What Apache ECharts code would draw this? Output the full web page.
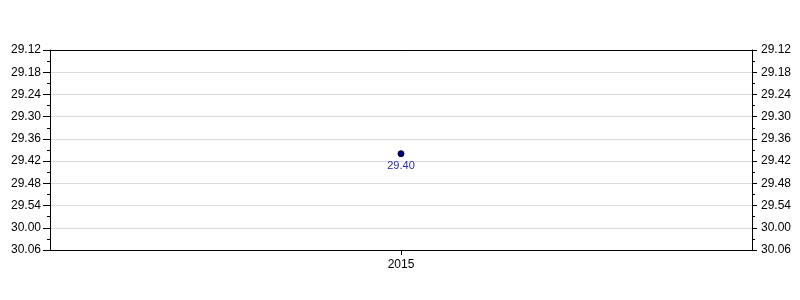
<!DOCTYPE html>
<html><head><meta charset="utf-8">
<script src="https://cdn.jsdelivr.net/npm/echarts@6/dist/echarts.min.js"></script>
<style>html,body{margin:0;padding:0;background:#fff}#c{width:800px;height:300px}</style>
</head><body><div id="c"></div>
<script>
const categories = ['2015'];
// times in seconds (29:40 => 29*60+40)
const values = [1780];
const valueLabels = ['29.40'];
const yMin = 1752, yMax = 1806, yStep = 6;

function fmt(v){
  const m = Math.floor(v/60), s = Math.round(v - m*60);
  return m + '.' + (s<10?'0':'') + s;
}
const FF = 'Liberation Sans, Arial, sans-serif';
const font = {fontFamily:FF, fontSize:12, color:'#000'};
function yAxisBase(pos, tickLen){
  return {
    type:'value', inverse:true, min:yMin, max:yMax, interval:yStep, position:pos,
    axisLine:{show:true, onZero:false, lineStyle:{color:'#000', width:1}},
    axisTick:{show:true, inside:false, length:tickLen, lineStyle:{color:'#000'}},
    minorTick:{show:true, splitNumber:2, length:3, lineStyle:{color:'#000'}},
    axisLabel:Object.assign({formatter:fmt, margin:9}, font),
  };
}
const chart = echarts.init(document.getElementById('c'), null, {renderer:'canvas'});
chart.setOption({
  animation:false,
  backgroundColor:'#fff',
  grid:{left:50, right:48, top:50, bottom:50, show:false},
  xAxis:[
    {type:'category', data:categories, boundaryGap:true, position:'bottom',
      axisLine:{lineStyle:{color:'#000'}},
      axisTick:{show:true, alignWithLabel:true, length:5, lineStyle:{color:'#000'}},
      axisLabel:Object.assign({margin:9}, font),
      splitLine:{show:false}},
    {type:'category', data:categories, position:'top',
      axisLine:{show:true, lineStyle:{color:'#000'}},
      axisTick:{show:false}, axisLabel:{show:false}, splitLine:{show:false}}
  ],
  yAxis:[
    Object.assign(yAxisBase('left', 7), {splitLine:{show:true, showMinLine:false, showMaxLine:false, lineStyle:{color:'#dcdcdc', width:1}}}),
    Object.assign(yAxisBase('right', 5), {splitLine:{show:false}})
  ],
  series:[{
    type:'line', data:values, yAxisIndex:0, xAxisIndex:0,
    symbol:'circle', symbolSize:6,
    itemStyle:{color:'#000080', borderColor:'#000033', borderWidth:1},
    lineStyle:{color:'#000080'},
    label:{show:true, position:'bottom', distance:3,
      formatter:(p)=>valueLabels[p.dataIndex],
      color:'#2a2aa8', fontFamily:FF, fontSize:11}
  }]
});
</script></body></html>
